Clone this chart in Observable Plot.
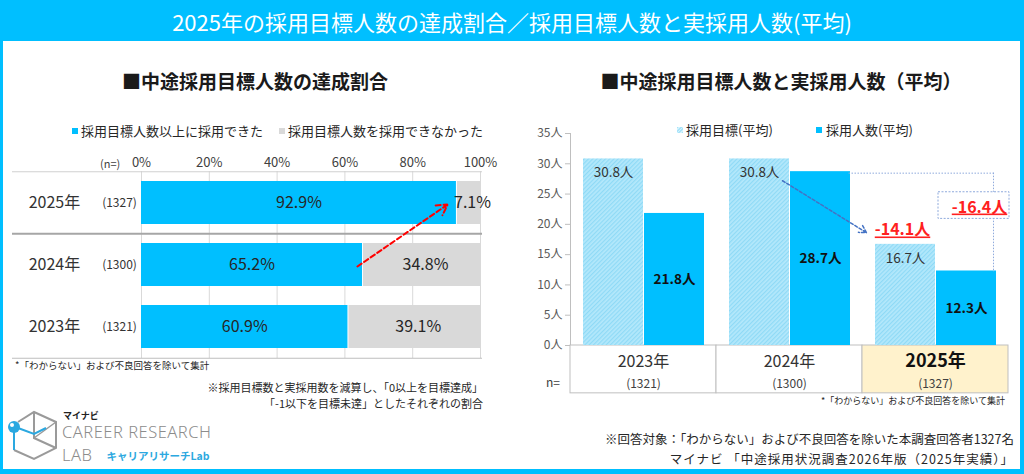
<!DOCTYPE html>
<html><head><meta charset="utf-8">
<script src="https://cdn.jsdelivr.net/npm/d3@7"></script>
<script src="https://cdn.jsdelivr.net/npm/@observablehq/plot@0.6"></script>
<style>
body{margin:0;background:#fff;}
#root{position:relative;width:1024px;height:474px;background:#00BFFF;overflow:hidden;font-family:"Noto Sans CJK JP","Noto Sans",sans-serif;color:#262626;}
.abs{position:absolute;white-space:nowrap;}
#panel{position:absolute;left:3px;top:41px;width:1017px;height:428px;background:#fff;}
#title{left:0;top:0;width:1024px;height:41px;line-height:42px;text-align:center;color:#fff;font-size:22px;font-weight:400;}
.sub{font-size:19px;font-weight:700;color:#1a1a1a;text-align:center;width:520px;line-height:22px;}
.leg{font-size:13px;line-height:16px;color:#262626;}
.sq{display:inline-block;width:6px;height:6px;margin-right:3px;vertical-align:2px;}
.hatch{background:repeating-linear-gradient(135deg,#A9E3F9 0 1.2px,#D2F3FE 1.2px 2.4px);}
.note{font-size:12px;color:#262626;line-height:16px;}
#leftchart{position:absolute;left:0;top:150px;}
#rightchart{position:absolute;left:512px;top:120px;}
</style></head><body><div id="root">
<div class="abs" id="title">2025年の採用目標人数の達成割合／採用目標人数と実採用人数(平均)</div>
<div id="panel"></div>
<div class="abs sub" style="left:-5px;top:70px;">■中途採用目標人数の達成割合</div>
<div class="abs sub" style="left:521px;top:70px;">■中途採用目標人数と実採用人数（平均）</div>
<div class="abs leg" style="left:72px;top:123px;"><span class="sq" style="background:#00BFFF"></span>採用目標人数以上に採用できた</div>
<div class="abs leg" style="left:279px;top:123px;"><span class="sq" style="background:#D9D9D9"></span>採用目標人数を採用できなかった</div>
<div class="abs leg" style="left:677px;top:122px;"><span class="sq hatch"></span>採用目標(平均)</div>
<div class="abs leg" style="left:816px;top:122px;"><span class="sq" style="background:#00BFFF;margin-right:4px"></span>採用人数(平均)</div>
<div class="abs" style="left:100px;top:155px;font-size:11px;color:#404040;">(n=)</div>
<div id="leftchart"></div>
<div id="rightchart"></div>
<div class="abs" style="left:546px;top:373px;font-size:12px;color:#404040;">n=</div>
<div class="abs" style="left:15px;top:358px;font-size:9.5px;color:#262626;">*「わからない」および不良回答を除いて集計</div>
<div class="abs note" style="right:541px;top:379px;font-size:11px;text-align:right;">※採用目標数と実採用数を減算し、「0以上を目標達成」<br>「-1以下を目標未達」としたそれぞれの割合</div>
<div class="abs" style="right:19px;top:394px;font-size:9px;color:#262626;">*「わからない」および不良回答を除いて集計</div>
<div class="abs note" style="right:10px;top:429px;font-size:12.5px;text-align:right;line-height:20px;">※回答対象：「わからない」および不良回答を除いた本調査回答者1327名<br><span style="letter-spacing:1px">マイナビ 「中途採用状況調査2026年版（2025年実績）」</span></div>
<svg class="abs" style="left:4px;top:408px;" width="60" height="55" viewBox="0 0 60 55">
  <polyline points="14,14 30,4 52,14 52,40 30,51 10,42" fill="none" stroke="#9a9a9a" stroke-width="2"/>
  <polyline points="30,4 30,30 52,40" fill="none" stroke="#9a9a9a" stroke-width="2"/>
  <polyline points="30,30 52,14" fill="none" stroke="#9a9a9a" stroke-width="1.5"/>
  <polyline points="10,20 10,42" fill="none" stroke="#2BA8E0" stroke-width="2"/>
  <polyline points="14,20 30,26 42,20" fill="none" stroke="#2BA8E0" stroke-width="2"/>
  <circle cx="10" cy="19" r="6" fill="#2BA8E0"/>
  <circle cx="8" cy="17" r="2" fill="#fff"/>
</svg>
<div class="abs" style="left:63px;top:410px;font-size:9px;line-height:11px;font-weight:700;color:#222;">マイナビ</div>
<div class="abs" style="left:62px;top:421px;font-size:16.5px;letter-spacing:0.5px;font-weight:300;color:#8c8c8c;font-family:'Noto Sans',sans-serif;line-height:22.5px;">CAREER RESEARCH<br>LAB<span style="font-family:'Noto Sans CJK JP',sans-serif;font-size:10.5px;letter-spacing:0;font-weight:700;color:#2BA8E0;margin-left:14px;vertical-align:1px;">キャリアリサーチLab</span></div>
</div>
<script>
// ---- Left chart data ----
const years = ["2025", "2024", "2023"];
const nCounts = [1327, 1300, 1321];
const achieved = [92.9, 65.2, 60.9];
const notAchieved = [7.1, 34.8, 39.1];
const pctTicks = [0, 20, 40, 60, 80, 100];

// ---- Right chart data ----
const avgYears = ["2023", "2024", "2025"];
const avgN = [1321, 1300, 1327];
const targetAvg = [30.8, 30.8, 16.7];
const actualAvg = [21.8, 28.7, 12.3];
const personTicks = [0, 5, 10, 15, 20, 25, 30, 35];

const FONT = "'Noto Sans CJK JP','Noto Sans',sans-serif";
const BLUE = "#00BFFF";

const rate = years.map((y, i) => ({year: y, n: nCounts[i], ok: achieved[i], ng: notAchieved[i]}));

const left = Plot.plot({
  width: 500, height: 210,
  marginLeft: 141, marginRight: 20, marginTop: 21, marginBottom: 2,
  style: {fontFamily: FONT, fontSize: "13px", background: "transparent", overflow: "visible", color: "#262626"},
  x: {domain: [0, 100]},
  y: {domain: years, paddingInner: 0.312, paddingOuter: 0.156, axis: null},
  marks: [
    Plot.gridX(pctTicks, {stroke: "#D9D9D9", strokeOpacity: 1}),
    Plot.axisX({anchor: "top", ticks: pctTicks, tickFormat: d => d + "%", tickSize: 0, tickPadding: 5, fontSize: 13, label: null, color: "#404040"}),
    Plot.ruleY([years[0]], {dy: -31.25, insetLeft: -129, insetRight: -2, stroke: "#D0D0D0"}),
    Plot.ruleY([years[1]], {dy: -31.25, insetLeft: -129, insetRight: -2, stroke: "#A6A6A6", strokeWidth: 2}),
    Plot.ruleY([years[2]], {dy: 31.25, insetLeft: -129, insetRight: -2, stroke: "#BFBFBF"}),
    Plot.barX(rate, {y: "year", x1: 0, x2: "ok", fill: BLUE}),
    Plot.barX(rate, {y: "year", x1: "ok", x2: d => d.ok + d.ng, fill: "#D9D9D9", insetLeft: 1}),
    Plot.text(rate, {y: "year", x: d => d.ok / 2, text: d => d.ok.toFixed(1) + "%", fontSize: 16, fill: "#262626"}),
    Plot.text(rate, {y: "year", x: d => d.ok + d.ng / 2, text: d => d.ng.toFixed(1) + "%", fontSize: 16, fill: "#262626", dx: 4}),
    Plot.text(rate, {y: "year", text: d => d.year + "年", frameAnchor: "left", textAnchor: "middle", dx: -87, fontSize: 16, fill: "#333"}),
    Plot.text(rate, {y: "year", text: d => "(" + d.n + ")", frameAnchor: "left", textAnchor: "middle", dx: -22, fontSize: 12, fill: "#333"}),
    Plot.arrow([{x1: 63.7, y1: years[1], x2: 90.3, y2: years[0]}], {x1: "x1", y1: "y1", x2: "x2", y2: "y2", dy: 1.5, stroke: "#FF0000", strokeWidth: 2, strokeDasharray: "5,3", headLength: 9})
  ]
});
document.getElementById("leftchart").append(left);

const avg = avgYears.map((y, i) => ({year: y, n: avgN[i], target: targetAvg[i], actual: actualAvg[i]}));
const a24 = avg[1], a25 = avg[2];
const diffTarget = (a25.target - a24.target).toFixed(1) + "人";
const diffActual = (a25.actual - a24.actual).toFixed(1) + "人";

const hatchDefs = () => {
  const ns = "http://www.w3.org/2000/svg";
  const defs = document.createElementNS(ns, "defs");
  defs.innerHTML = `<pattern id="hatch" patternUnits="userSpaceOnUse" width="3" height="3" patternTransform="rotate(45)">
    <rect width="3" height="3" fill="#B4E8FB"/><rect width="1.2" height="3" fill="#8FDAF6"/></pattern>`;
  return defs;
};

const right = Plot.plot({
  width: 508, height: 290,
  marginLeft: 58, marginRight: 12, marginTop: 13, marginBottom: 65,
  style: {fontFamily: FONT, fontSize: "12px", background: "transparent", overflow: "visible", color: "#262626"},
  x: {domain: avgYears, padding: 0, axis: null},
  y: {domain: [0, 35], axis: null},
  marks: [
    hatchDefs,
    Plot.axisY({ticks: personTicks, tickFormat: d => d + "人", tickSize: 5, tickPadding: 3, fontSize: 12, stroke: "#BFBFBF", fill: "#595959", label: null}),
    Plot.ruleX([avgYears[0]], {y1: 0, y2: 35, dx: -73, stroke: "#BFBFBF"}),
    Plot.barY(avg, {x: "year", y1: 0, y2: -7.9, fill: d => d.year === "2025" ? "#FFF2CC" : "#fff", stroke: "#BFBFBF"}),
    Plot.barY(avg, {x: "year", y: "target", insetLeft: 13, insetRight: 73, fill: "url(#hatch)"}),
    Plot.barY(avg, {x: "year", y: "actual", insetLeft: 74, insetRight: 12, fill: BLUE}),
    Plot.text(avg, {x: "year", y: "target", text: d => d.target.toFixed(1) + "人", dx: -30, dy: 14, fontSize: 13.5, fill: "#333"}),
    Plot.text(avg, {x: "year", y: d => d.actual / 2, text: d => d.actual.toFixed(1) + "人", dx: 31, fontSize: 13.5, fontWeight: 600, fill: "#111"}),
    Plot.text(avg.filter(d => d.year !== "2025"), {x: "year", y: -2.7, text: d => d.year + "年", fontSize: 16, fill: "#333"}),
    Plot.text(avg.filter(d => d.year === "2025"), {x: "year", y: -2.6, text: d => d.year + "年", fontSize: 18, fontWeight: 700, fill: "#111"}),
    Plot.text(avg, {x: "year", y: -6.3, text: d => "(" + d.n + ")", fontSize: 12, fill: "#404040"}),
    Plot.arrow([{x1: "2024", y1: 27.2, x2: "2025", y2: 12.3}], {x1: "x1", y1: "y1", x2: "x2", y2: "y2", dx: -7, insetEnd: 73, stroke: "#4472C4", strokeWidth: 1.5, strokeDasharray: "3,2", headLength: 8}),
    Plot.link([{x1: "2024", x2: "2025", y: a24.actual}], {x1: "x1", x2: "x2", y1: "y", y2: "y", dx: 59, dy: 1.5, stroke: "#8FAADC", strokeDasharray: "1.5,1.5"}),
    Plot.ruleX([a25], {x: "year", y1: a24.actual, y2: "actual", dx: 58, dy: 1.5, stroke: "#8FAADC", strokeDasharray: "1.5,1.5"}),
    Plot.barY([a25], {x: "year", y1: 20.9, y2: 25.3, insetLeft: 76, insetRight: -1, fill: "#fff", stroke: "#8FAADC", strokeDasharray: "2,1.5"}),
    Plot.text([a25], {x: "year", y: 22.8, text: () => diffActual, dx: 44, fontSize: 16, fontWeight: 700, fill: "#FF2020"}),
    Plot.text([a25], {x: "year", y: "target", text: () => diffTarget, dx: -33, dy: -14, fontSize: 16, fontWeight: 700, fill: "#FF2020"})
  ]
});
document.getElementById("rightchart").append(right);

for (const t of right.querySelectorAll("text")) {
  if (t.textContent === diffActual || t.textContent === diffTarget) t.setAttribute("text-decoration", "underline");
}
</script>
</body></html>
